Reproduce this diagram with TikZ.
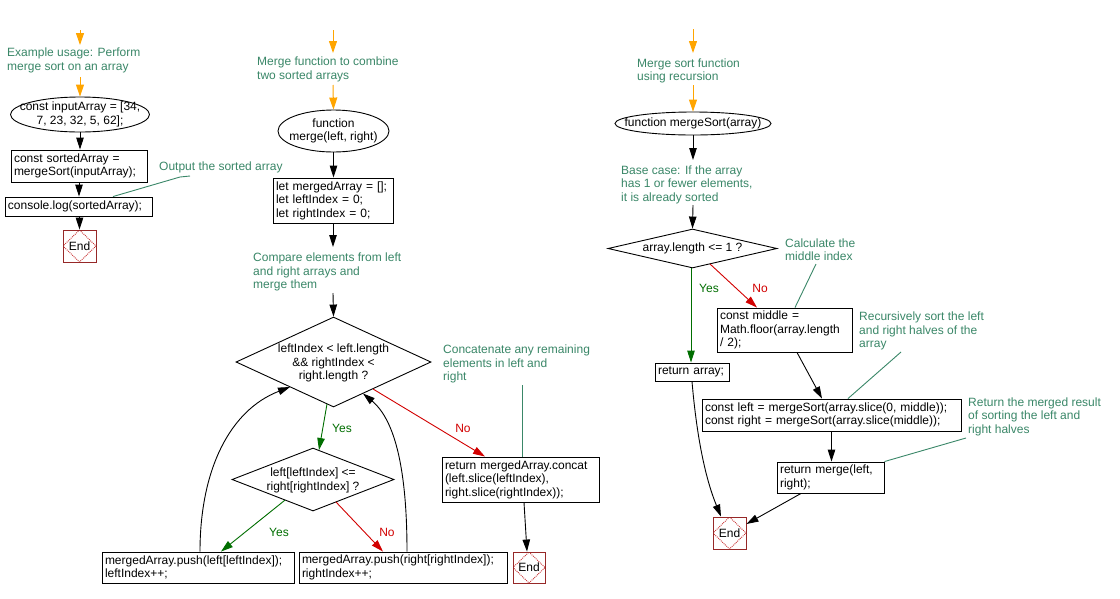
\documentclass[tikz,border=0pt]{standalone}
\usepackage{fontspec}
\setmainfont{Liberation Sans}
\usetikzlibrary{arrows.meta,shapes.geometric,calc}
\definecolor{cmtc}{RGB}{58,135,104}
\definecolor{yesc}{RGB}{0,110,0}
\definecolor{noc}{RGB}{210,0,0}
\definecolor{endc}{RGB}{150,40,40}
\definecolor{enddot}{RGB}{200,50,50}
\definecolor{orc}{RGB}{255,165,0}
\newcommand{\oneline}[1]{\mbox{#1}}
\tikzset{
  box/.style={draw, rectangle, line width=0.9pt, inner xsep=3pt, inner ysep=0pt, align=left},
  ell/.style={draw, ellipse, line width=0.9pt, inner sep=0pt},
  dia/.style={draw, diamond, line width=0.9pt, inner sep=0pt},
  txt/.style={inner sep=0pt, align=center},
  cmt/.style={anchor=west, align=left, inner sep=0pt, text=cmtc},
  endbox/.style={draw=endc, line width=0.9pt, rectangle, minimum width=33pt, minimum height=32pt, inner sep=0pt,
    path picture={\draw[enddot, densely dotted, line width=0.9pt] (path picture bounding box.north) -- (path picture bounding box.east) -- (path picture bounding box.south) -- (path picture bounding box.west) -- cycle;}},
  arr/.style={draw, line width=0.9pt, -{Triangle[length=12pt,width=7.5pt]}},
  oarr/.style={draw=orc, line width=1pt, -{Triangle[length=12pt,width=8pt]}},
  yarr/.style={draw=yesc, line width=0.9pt, -{Triangle[length=12pt,width=7.5pt]}},
  narr/.style={draw=noc, line width=0.9pt, -{Triangle[length=12pt,width=7.5pt]}},
  cline/.style={draw=cmtc, line width=0.9pt},
  ylab/.style={text=yesc, inner sep=0pt},
  nlab/.style={text=noc, inner sep=0pt},
}
\begin{document}
\begin{tikzpicture}[x=1pt, y=-1pt, font=\fontsize{12}{13.5}\selectfont]
\useasboundingbox[fill=white] (0,0) rectangle (1120,598);

% ---------------- Left column ----------------
\coordinate (o1s) at (80,30);
\node[cmt] (c1) at (7,60.5) {Example usage: Perform\\merge sort on an array};
\node[ell, minimum width=139pt, minimum height=35pt] (el1) at (80,114.5) {};
\node[txt] (el1t) at (el1.center) {const inputArray = [34,\\7, 23, 32, 5, 62];};
\node[box, minimum height=32pt, text width=130pt] (b1) at (79,166) {\oneline{const sortedArray =}\\\oneline{mergeSort(inputArray);}};
\node[box, minimum height=19pt, text width=141pt] (b2) at (78.5,206.5) {\oneline{console.log(sortedArray);}};
\node[endbox] (end1) at (79.5,246) {End};
\node[cmt] (c2) at (159,167) {Output the sorted array};
\coordinate (k2) at (190,176);

\draw[oarr] (o1s) -- (o1s |- 0,45);
\draw[oarr] (80,77) -- (el1.north);
\draw[arr] (el1.south) -- (el1.south |- b1.north);
\draw[arr] (b1.south) -- (b1.south |- b2.north);
\draw[arr] (b2.south -| end1) -- (end1.north);
\draw[cline] (k2) -- (180,177) -- ($(b2.north)+(34.5,0)$);

% ---------------- Middle column ----------------
\coordinate (o2s) at (333,30);
\node[cmt] (c3) at (257,69.5) {Merge function to combine\\two sorted arrays};
\node[ell, minimum width=111pt, minimum height=42pt] (el2) at (333.5,131) {};
\node[txt] (el2t) at (el2.center) {function\\merge(left, right)};
\node[box, minimum height=45pt, text width=114pt] (b3) at (333,200.5) {\oneline{let mergedArray = [];}\\\oneline{let leftIndex = 0;}\\\oneline{let rightIndex = 0;}};
\node[cmt] (c4) at (253,272) {Compare elements from left\\and right arrays and\\merge them};
\node[dia, minimum width=195pt, minimum height=90pt] (d1) at (333.5,362) {};
\node[txt] (d1t) at (333.5,363) {leftIndex < left.length\\\&\& rightIndex <\\right.length ?};
\node[dia, minimum width=162pt, minimum height=63pt] (d2) at (313,479.5) {};
\node[txt] (d2t) at (313,480.5) {left[leftIndex] <=\\right[rightIndex] ?};
\node[box, minimum height=31pt, text width=186pt] (bL) at (198,567.5) {\oneline{mergedArray.push(left[leftIndex]);}\\\oneline{leftIndex++;}};
\node[box, minimum height=31pt, text width=202pt] (bR) at (403,567.5) {\oneline{mergedArray.push(right[rightIndex]);}\\\oneline{rightIndex++;}};
\node[box, minimum height=45pt, text width=151pt] (ret) at (520.5,479.5) {\oneline{return mergedArray.concat}\\\oneline{(left.slice(leftIndex),}\\\oneline{right.slice(rightIndex));}};
\node[endbox, minimum width=32pt, minimum height=31pt] (end2) at (529,567.5) {End};
\node[cmt] (c5) at (443,364) {Concatenate any remaining\\elements in left and\\right};
\coordinate (k5) at (522,385);
\node[ylab] (y1) at (342,428) {Yes};
\node[nlab] (n1) at (463,428) {No};
\node[ylab] (y2) at (279,532) {Yes};
\node[nlab] (n2) at (387,532) {No};

\draw[oarr] (o2s) -- (o2s |- 0,53);
\draw[oarr] (333,85) -- (el2.north);
\draw[arr] (el2.south) -- (el2.south |- b3.north);
\draw[arr] (b3.south) -- (333,247);
\draw[arr] (333,293) -- (d1.north);
\draw[yarr] ($(d1.center)+(-6.5,42)$) -- ($(d2.center)+(6,-29.5)$);
\draw[yarr] ($(d2.center)+(-28,20.6)$) -- ($(bL.north)+(23,0)$);
\draw[narr] ($(d2.center)+(23,22.5)$) -- ($(bR.north)+(-20,0)$);
\draw[narr] ($(d1.center)+(39.5,27)$) -- ($(ret.north)+(-35.5,0)$);
\draw[arr] ($(bL.north)+(2,0)$) .. controls +(0,-82) and (230,410) .. ($(d1.center)+(-43.5,25)$);
\draw[arr] ($(bR.north)+(4,0)$) .. controls +(0,-82) and (395,420) .. ($(d1.center)+(29.5,31.5)$);
\draw[cline] (k5) -- ($(ret.north)+(1.5,0)$);
\draw[arr] ($(ret.south)+(3.5,0)$) -- ($(end2.north)+(-2,0)$);

% ---------------- Right column ----------------
\coordinate (o3s) at (693,29);
\node[cmt] (c6) at (637,71) {Merge sort function\\using recursion};
\node[ell, minimum width=156pt, minimum height=23pt] (el3) at (693,123.5) {};
\node[txt] (el3t) at (el3.center) {function mergeSort(array)};
\node[cmt] (c7) at (621,184.5) {Base case: If the array\\has 1 or fewer elements,\\it is already sorted};
\node[dia, minimum width=169pt, minimum height=39pt] (d3) at (692.5,248.5) {};
\node[txt] (d3t) at (d3.center) {array.length <= 1 ?};
\node[cmt] (c8) at (785,249.5) {Calculate the\\middle index};
\coordinate (k8) at (816,264);
\node[box, minimum height=44pt, text width=129pt] (mb) at (784.5,330) {\oneline{const middle =}\\\oneline{Math.floor(array.length}\\\oneline{/ 2);}};
\node[box, minimum height=18pt, text width=68pt] (ra) at (692,372) {\oneline{return array;}};
\node[cmt] (c9) at (859,331) {Recursively sort the left\\and right halves of the\\array};
\coordinate (k9) at (901,352);
\node[box, minimum height=32pt, text width=253pt] (sb) at (831.5,415) {\oneline{const left = mergeSort(array.slice(0, middle));}\\\oneline{const right = mergeSort(array.slice(middle));}};
\node[cmt] (c10) at (968,416.5) {Return the merged result\\of sorting the left and\\right halves};
\coordinate (k10) at (966,438);
\node[box, minimum height=31pt, text width=101pt] (rm) at (830.5,477.5) {\oneline{return merge(left,}\\\oneline{right);}};
\node[endbox] (end3) at (729.5,533) {End};
\node[ylab] (y3) at (709,288) {Yes};
\node[nlab] (n3) at (760,288) {No};

\draw[oarr] (o3s) -- (o3s |- 0,53);
\draw[oarr] (693,85) -- (el3.north);
\draw[arr] (el3.south) -- (693,160);
\draw[arr] (693,205) -- (d3.north);
\draw[yarr] ($(d3.south)+(-1.5,0)$) -- ($(ra.north)+(-1,0)$);
\draw[narr] ($(d3.center)+(17.5,15.5)$) -- ($(mb.north)+(-27.5,0)$);
\draw[cline] (k8) -- ($(mb.north)+(10.5,0)$);
\draw[arr] ($(mb.south)+(12.5,0)$) -- ($(sb.north)+(-9.5,0)$);
\draw[cline] (k9) -- ($(sb.north)+(16.5,0)$);
\draw[arr] (sb.south) -- (sb.south |- rm.north);
\draw[cline] (k10) -- (rm.north east);
\draw[arr] (ra.south) .. controls (697,440) and (706,480) .. ($(end3.north)+(-8.5,0)$);
\draw[arr] ($(rm.south)+(-29.5,0)$) -- ($(end3.east)+(0,-9)$);
\end{tikzpicture}
\end{document}
